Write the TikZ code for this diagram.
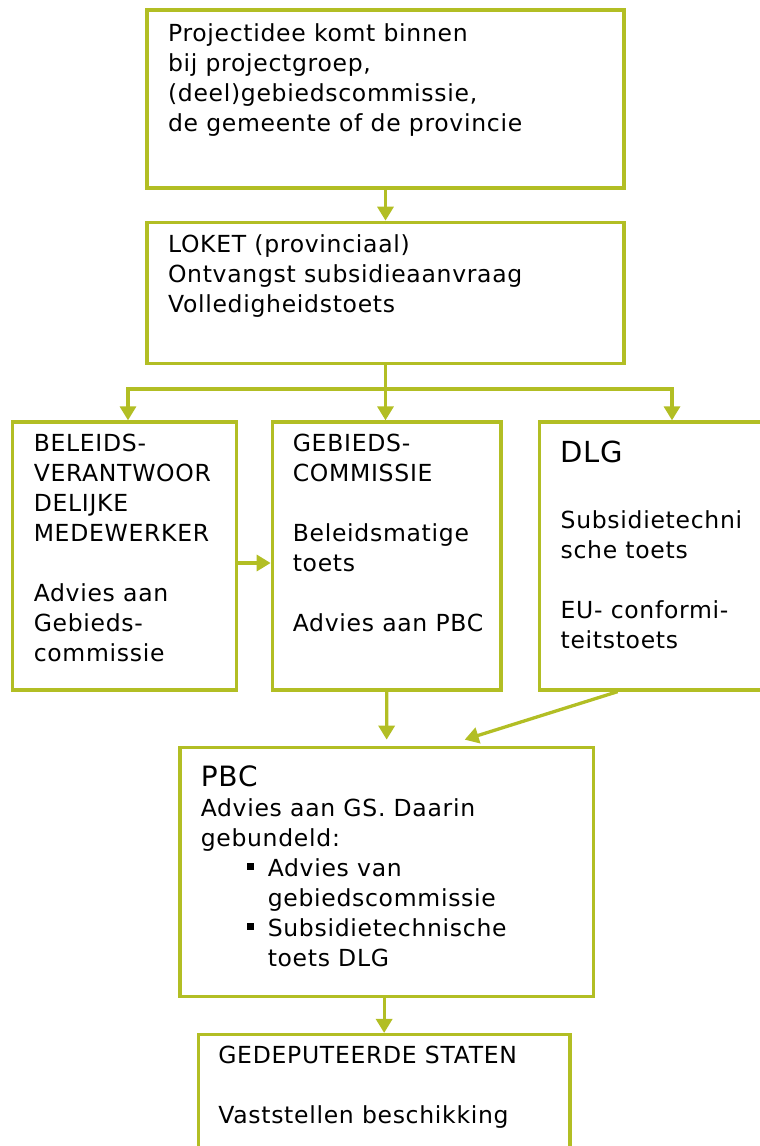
\documentclass[tikz,border=0pt]{standalone}
\usepackage{fontspec}
\setmainfont[LetterSpace=3]{DejaVu Sans}
\usetikzlibrary{arrows.meta, positioning}
\definecolor{lijngroen}{RGB}{178,190,36}

\begin{document}
\begin{tikzpicture}[x=1pt, y=-1pt,
        box/.style={rectangle, draw=lijngroen, line width=3.3pt},
        txt/.style={inner sep=0pt, align=left, font=\fontsize{23.5}{30}\selectfont, execute at begin node={\rule{0pt}{21pt}}},
        pijl/.style={color=lijngroen, line width=3.3pt, -{Triangle[width=16pt,length=14pt]}}]
        \useasboundingbox (0,0) rectangle (760,1146);
        \clip (0,0) rectangle (760,1146);
        % boxes
        \node (idee) [box, minimum width=477pt, minimum height=178pt] at (385.5,99) {};
        \node (loket) [box, minimum width=477pt, minimum height=141pt, below = 31pt of idee] {};
        \node (bvm) [box, minimum width=224pt, minimum height=268pt] at (124.7,556) {};
        \node (gc) [box, minimum width=228.7pt, minimum height=268pt, right = 32.3pt of bvm] {};
        \node (dlg) [box, minimum width=261pt, minimum height=268pt, right = 35.3pt of gc] {};
        \node (pbc) [box, minimum width=413.3pt, minimum height=249.4pt] at (386.65,872) {};
        \node (gs) [box, minimum width=371.7pt, minimum height=146pt, below = 34.6pt of pbc, xshift=-2.5pt] {};
        % texts
        \node (idee-t) [txt, below right = 15.5pt and 22.5pt of idee.north west] {Projectidee komt binnen\\bij projectgroep,\\(deel)gebiedscommissie,\\de gemeente of de provincie};
        \node (loket-t) [txt, below right = 13.5pt and 22.5pt of loket.north west] {LOKET (provinciaal)\\Ontvangst subsidieaanvraag\\Volledigheidstoets};
        \node (bvm-t) [txt, below right = 13.5pt and 22.5pt of bvm.north west] {BELEIDS-\\VERANTWOOR\\DELIJKE\\MEDEWERKER\\[30pt]Advies aan\\Gebieds-\\commissie};
        \node (gc-t) [txt, below right = 13.5pt and 22pt of gc.north west] {GEBIEDS-\\COMMISSIE\\[30pt]Beleidsmatige\\toets\\[30pt]Advies aan PBC};
        \node (dlg-t) [txt, below right = 20.5pt and 22.5pt of dlg.north west] {{\fontsize{29}{30}\selectfont DLG}\\[36pt]Subsidietechni\\sche toets\\[30pt]EU- conformi-\\teitstoets};
        \node (pbc-t) [txt, below right = 20.2pt and 22.2pt of pbc.north west] {{\fontsize{28}{30}\selectfont PBC}\\Advies aan GS. Daarin\\gebundeld:\\
            \hspace*{46.5pt}\rule[7pt]{6.5pt}{6.5pt}\hspace*{14pt}Advies van\\\hspace*{67pt}gebiedscommissie\\
            \hspace*{46.5pt}\rule[7pt]{6.5pt}{6.5pt}\hspace*{14pt}Subsidietechnische\\\hspace*{67pt}toets DLG};
        \node (gs-t) [txt, below right = 13.2pt and 21.5pt of gs.north west] {GEDEPUTEERDE STATEN\\[30pt]Vaststellen beschikking};
        % connectors
        \coordinate (tak) at (loket.south |- 0,389);
        \coordinate (tak-l) at (128,389);
        \coordinate (tak-r) at (672,389);
        \path [pijl] (idee) edge (loket);
        \draw [pijl] (loket.south) -- (loket.south |- gc.north);
        \draw [pijl] (tak) -| (tak-l |- bvm.north);
        \draw [pijl] (tak) -| (tak-r |- dlg.north);
        \draw [pijl] ([yshift=-7pt]bvm.east) -- ([yshift=-7pt]gc.west);
        \draw [pijl] (gc.south) -- ([yshift=6pt]pbc.north);
        \draw [pijl] ([xshift=-52.5pt]dlg.south) -- ([xshift=78pt,yshift=6pt]pbc.north);
        \draw [pijl] (pbc.south -| gs.north) -- (gs.north);
\end{tikzpicture}
\end{document}
